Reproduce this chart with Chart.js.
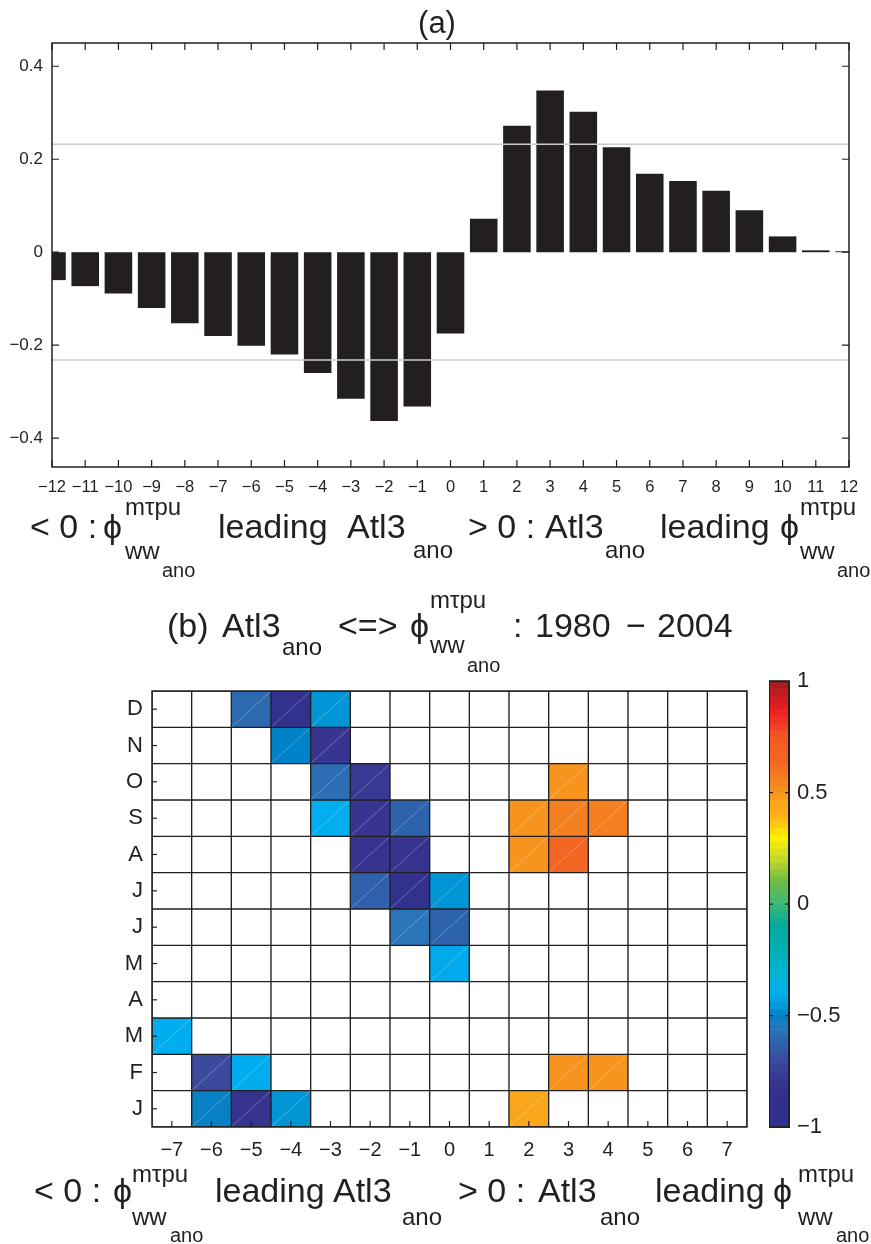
<!DOCTYPE html>
<html>
<head>
<meta charset="utf-8">
<script src="https://cdn.jsdelivr.net/npm/chart.js@4.4.1/dist/chart.umd.min.js"></script>
<style>
  html, body { margin: 0; padding: 0; background: #ffffff; }
  #wrap { position: relative; width: 871px; height: 1244px; }
  canvas { position: absolute; }
</style>
</head>
<body>
<div id="wrap">
  <canvas id="lagChart" width="871" height="580" style="left:0;top:0"></canvas>
  <canvas id="monthChart" width="871" height="664" style="left:0;top:580px"></canvas>
  <canvas id="colorBar" width="102" height="490" style="left:769px;top:660px"></canvas>
</div>
<script>
// ---------- panel (a): lagged correlation, all months ----------
const lagsA = [-12, -11, -10, -9, -8, -7, -6, -5, -4, -3, -2, -1, 0, 1, 2, 3, 4, 5, 6, 7, 8, 9, 10, 11, 12];
const corrA = [-0.060, -0.073, -0.089, -0.120, -0.153, -0.180, -0.201, -0.220, -0.260, -0.315, -0.363, -0.332,
               -0.175, 0.072, 0.272, 0.348, 0.302, 0.226, 0.169, 0.153, 0.132, 0.090, 0.034, 0.004, 0.002];
const yTicksA = [-0.4, -0.2, 0, 0.2, 0.4];
const sigLevel = 0.232;   // 95% significance threshold

// ---------- panel (b): lagged correlation by calendar month ----------
const months = ['J', 'F', 'M', 'A', 'M', 'J', 'J', 'A', 'S', 'O', 'N', 'D'];
const lagsB = [-7, -6, -5, -4, -3, -2, -1, 0, 1, 2, 3, 4, 5, 6, 7];
// significant correlations only (null = not significant), one entry per lag -7..7
const rJan = [null, -0.51, -0.82, -0.46, null, null, null, null, null, 0.45, null, null, null, null, null];
const rFeb = [null, -0.70, -0.40, null, null, null, null, null, null, null, 0.50, 0.50, null, null, null];
const rMar = [-0.40, null, null, null, null, null, null, null, null, null, null, null, null, null, null];
const rApr = [null, null, null, null, null, null, null, null, null, null, null, null, null, null, null];
const rMay = [null, null, null, null, null, null, null, -0.41, null, null, null, null, null, null, null];
const rJun = [null, null, null, null, null, null, -0.56, -0.62, null, null, null, null, null, null, null];
const rJul = [null, null, null, null, null, -0.63, -0.85, -0.46, null, null, null, null, null, null, null];
const rAug = [null, null, null, null, null, -0.82, -0.82, null, null, 0.50, 0.65, null, null, null, null];
const rSep = [null, null, null, null, -0.40, -0.80, -0.62, null, null, 0.50, 0.56, 0.56, null, null, null];
const rOct = [null, null, null, null, -0.58, -0.78, null, null, null, null, 0.50, null, null, null, null];
const rNov = [null, null, null, -0.50, -0.80, null, null, null, null, null, null, null, null, null, null];
const rDec = [null, null, -0.60, -0.85, -0.46, null, null, null, null, null, null, null, null, null, null];
const monthRows = [rJan, rFeb, rMar, rApr, rMay, rJun, rJul, rAug, rSep, rOct, rNov, rDec];
const cbTicks = [-1, -0.5, 0, 0.5, 1];

// ---------- shared styling ----------
const ink = '#231f20';
const family = '"Liberation Sans", Arial, Helvetica, "DejaVu Sans", sans-serif';
Chart.defaults.font.family = family;
Chart.defaults.color = ink;

const colorStops = [
  [-1.00, '#2e3192'], [-0.88, '#312f8d'], [-0.80, '#37358f'], [-0.70, '#3b4a9e'],
  [-0.62, '#2d63ad'], [-0.56, '#2a74b8'], [-0.50, '#0082c8'], [-0.46, '#0096d6'],
  [-0.40, '#00aeef'], [-0.30, '#00b3d0'], [-0.20, '#00b0b0'], [-0.10, '#00a99d'],
  [0.00, '#3cb878'], [0.10, '#6cbd45'], [0.20, '#c2d62e'], [0.30, '#fff200'],
  [0.38, '#fdb913'], [0.45, '#faa61a'], [0.50, '#f7941d'], [0.56, '#f47f20'],
  [0.65, '#f26522'], [0.75, '#f15a24'], [0.87, '#ed2024'], [1.00, '#a01c20']
];
function hexToRgb(h) {
  return [parseInt(h.slice(1, 3), 16), parseInt(h.slice(3, 5), 16), parseInt(h.slice(5, 7), 16)];
}
function cmap(v) {
  v = Math.max(-1, Math.min(1, v));
  for (let i = 1; i < colorStops.length; i++) {
    const [v1, c1] = colorStops[i];
    if (v <= v1) {
      const [v0, c0] = colorStops[i - 1];
      const t = (v - v0) / (v1 - v0);
      const a = hexToRgb(c0), b = hexToRgb(c1);
      const m = a.map((x, k) => Math.round(x + (b[k] - x) * t));
      return `rgb(${m[0]},${m[1]},${m[2]})`;
    }
  }
  return colorStops[colorStops.length - 1][1];
}

function minusFmt(v) {
  const s = String(Math.round(Math.abs(v) * 100) / 100);
  return v < 0 ? '\u2212' + s : s;
}

// draws text runs: [x, text, fontSize, baselineOffset]
function drawRuns(ctx, baseline, runs) {
  ctx.save();
  ctx.fillStyle = ink;
  ctx.textAlign = 'left';
  ctx.textBaseline = 'alphabetic';
  for (const [x, text, size, dy] of runs) {
    ctx.font = size + 'px ' + family;
    ctx.fillText(text, x, baseline + dy);
  }
  ctx.restore();
}

function frame(ctx, area, lw) {
  ctx.save();
  ctx.strokeStyle = ink;
  ctx.lineWidth = lw;
  ctx.strokeRect(area.left, area.top, area.right - area.left, area.bottom - area.top);
  ctx.restore();
}

// ---------- panel (a) ----------
const lagPanel = {
  id: 'lagPanel',
  afterDatasetsDraw(chart) {
    const { ctx, chartArea: a, scales: { x, y } } = chart;
    ctx.save();
    // significance levels
    ctx.strokeStyle = '#cdcdcd';
    ctx.lineWidth = 1.5;
    [sigLevel, -sigLevel].forEach(v => {
      const py = y.getPixelForValue(v);
      ctx.beginPath(); ctx.moveTo(a.left, py); ctx.lineTo(a.right, py); ctx.stroke();
    });
    // box and inward ticks
    frame(ctx, a, 1.5);
    ctx.strokeStyle = ink;
    ctx.lineWidth = 1.2;
    const L = 7;
    lagsA.forEach(v => {
      const px = x.getPixelForValue(v);
      ctx.beginPath();
      ctx.moveTo(px, a.bottom); ctx.lineTo(px, a.bottom - L);
      ctx.moveTo(px, a.top); ctx.lineTo(px, a.top + L);
      ctx.stroke();
    });
    yTicksA.forEach(v => {
      const py = y.getPixelForValue(v);
      ctx.beginPath();
      ctx.moveTo(a.left, py); ctx.lineTo(a.left + L, py);
      ctx.moveTo(a.right, py); ctx.lineTo(a.right - L, py);
      ctx.stroke();
    });
    ctx.restore();
  },
  afterDraw(chart) {
    const ctx = chart.ctx;
    ctx.save();
    ctx.fillStyle = ink;
    ctx.font = '31px ' + family;
    ctx.textAlign = 'center';
    ctx.fillText('(a)', 437, 33);
    ctx.restore();
    const M = 34, S = 24, T = 20;
    drawRuns(ctx, 538, [
      [30, '< 0 :', M, 0], [103, '\u03D5', M, 0],
      [125, 'm\u03C4pu', S, -23], [125, 'ww', S, 21], [162, 'ano', T, 39],
      [218, 'leading', M, 0], [347, 'Atl3', M, 0], [413, 'ano', S, 20],
      [468, '> 0 :', M, 0], [545, 'Atl3', M, 0], [605, 'ano', S, 20],
      [660, 'leading', M, 0], [780, '\u03D5', M, 0],
      [800, 'm\u03C4pu', S, -23], [800, 'ww', S, 21], [837, 'ano', T, 39]
    ]);
  }
};

new Chart(document.getElementById('lagChart'), {
  type: 'bar',
  data: {
    datasets: [{
      data: lagsA.map((l, i) => ({ x: l, y: corrA[i] })),
      backgroundColor: ink,
      borderWidth: 0,
      barPercentage: 0.83,
      categoryPercentage: 1
    }]
  },
  options: {
    responsive: false,
    animation: false,
    devicePixelRatio: 1,
    layout: { padding: { top: 43, right: 22, left: 0, bottom: 0 } },
    plugins: { legend: { display: false }, tooltip: { enabled: false } },
    scales: {
      x: {
        type: 'linear', min: -12, max: 12, offset: false,
        grid: { display: false, drawTicks: false },
        border: { display: false },
        ticks: { font: { size: 16.5 }, padding: 11, maxRotation: 0, autoSkip: false, callback: v => minusFmt(v) },
        afterBuildTicks: s => { s.ticks = lagsA.map(v => ({ value: v })); },
        afterFit: s => { s.height = 113; }
      },
      y: {
        type: 'linear', min: -0.462, max: 0.45,
        grid: { display: false, drawTicks: false },
        border: { display: false },
        ticks: { font: { size: 17 }, padding: 9, callback: v => minusFmt(v) },
        afterBuildTicks: s => { s.ticks = yTicksA.map(v => ({ value: v })); },
        afterFit: s => { s.width = 52; }
      }
    }
  },
  plugins: [lagPanel]
});

// ---------- panel (b) ----------
const cells = [];
monthRows.forEach((row, r) => {
  row.forEach((v, c) => cells.push({ x: lagsB[c], y: [r, r + 1], v: v }));
});

const monthPanel = {
  id: 'monthPanel',
  afterDatasetsDraw(chart) {
    const { ctx, chartArea: a, scales: { x, y } } = chart;
    ctx.save();
    // faint diagonal seam on filled cells
    const meta = chart.getDatasetMeta(0);
    ctx.strokeStyle = 'rgba(255,255,255,0.35)';
    ctx.lineWidth = 0.8;
    meta.data.forEach((el, i) => {
      if (cells[i].v == null) return;
      const p = el.getProps(['x', 'y', 'base', 'width'], true);
      ctx.beginPath();
      ctx.moveTo(p.x - p.width / 2 + 1, p.base - 1);
      ctx.lineTo(p.x + p.width / 2 - 1, p.y + 1);
      ctx.stroke();
    });
    frame(ctx, a, 1.5);
    ctx.strokeStyle = ink;
    ctx.lineWidth = 1.2;
    lagsB.forEach(v => {
      const px = x.getPixelForValue(v);
      ctx.beginPath(); ctx.moveTo(px, a.bottom); ctx.lineTo(px, a.bottom - 6); ctx.stroke();
    });
    months.forEach((m, i) => {
      const py = y.getPixelForValue(i + 0.5);
      ctx.beginPath(); ctx.moveTo(a.left, py); ctx.lineTo(a.left + 5, py); ctx.stroke();
    });
    ctx.restore();
  },
  afterDraw(chart) {
    const ctx = chart.ctx;
    const M = 34, S = 24, T = 20;
    // title (canvas starts 580px down the page)
    drawRuns(ctx, 57, [
      [167, '(b)', M, 0], [222, 'Atl3', M, 0], [282, 'ano', S, 18],
      [338, '<=>', M, 0], [410, '\u03D5', M, 0],
      [430, 'm\u03C4pu', S, -29], [430, 'ww', S, 16], [467, 'ano', T, 35],
      [513, ':', M, 0], [535, '1980', M, 0], [626, '\u2212', M, 0], [657, '2004', M, 0]
    ]);
    drawRuns(ctx, 622, [
      [34, '< 0 :', M, 0], [113, '\u03D5', M, 0],
      [132, 'm\u03C4pu', S, -20], [132, 'ww', S, 23], [170, 'ano', T, 40],
      [215, 'leading', M, 0], [333, 'Atl3', M, 0], [402, 'ano', S, 23],
      [458, '> 0 :', M, 0], [538, 'Atl3', M, 0], [600, 'ano', S, 23],
      [655, 'leading', M, 0], [773, '\u03D5', M, 0],
      [798, 'm\u03C4pu', S, -20], [798, 'ww', S, 23], [836, 'ano', T, 40]
    ]);
  }
};

new Chart(document.getElementById('monthChart'), {
  type: 'bar',
  data: {
    datasets: [{
      data: cells,
      backgroundColor: c => (c.raw && c.raw.v != null) ? cmap(c.raw.v) : '#ffffff',
      borderColor: ink,
      borderWidth: 1,
      borderSkipped: false,
      barPercentage: 1,
      categoryPercentage: 1
    }]
  },
  options: {
    responsive: false,
    animation: false,
    devicePixelRatio: 1,
    layout: { padding: { top: 111, right: 124, left: 0, bottom: 0 } },
    plugins: { legend: { display: false }, tooltip: { enabled: false } },
    scales: {
      x: {
        type: 'linear', min: -7.5, max: 7.5, offset: false,
        grid: { display: false, drawTicks: false },
        border: { display: false },
        ticks: { font: { size: 20 }, padding: 11, maxRotation: 0, autoSkip: false, callback: v => minusFmt(v) },
        afterBuildTicks: s => { s.ticks = lagsB.map(v => ({ value: v })); },
        afterFit: s => { s.height = 117; }
      },
      y: {
        type: 'linear', min: 0, max: 12,
        grid: { display: false, drawTicks: false },
        border: { display: false },
        ticks: { font: { size: 22 }, padding: 9, autoSkip: false, callback: (v, i) => months[i] },
        afterBuildTicks: s => { s.ticks = months.map((m, i) => ({ value: i + 0.5 })); },
        afterFit: s => { s.width = 152; }
      }
    }
  },
  plugins: [monthPanel]
});

// ---------- colour bar ----------
const nLevels = 64;
const bands = [];
for (let k = 0; k < nLevels; k++) {
  const lo = -1 + 2 * k / nLevels, hi = -1 + 2 * (k + 1) / nLevels;
  bands.push({ x: 0, y: [lo, hi], v: (lo + hi) / 2 });
}
const barFrame = {
  id: 'barFrame',
  afterDatasetsDraw(chart) {
    const { ctx, chartArea: a, scales: { y } } = chart;
    ctx.save();
    frame(ctx, a, 2);
    ctx.strokeStyle = ink;
    ctx.lineWidth = 1.2;
    [-0.5, 0, 0.5].forEach(v => {
      const py = y.getPixelForValue(v);
      ctx.beginPath();
      ctx.moveTo(a.left, py); ctx.lineTo(a.left + 4, py);
      ctx.moveTo(a.right, py); ctx.lineTo(a.right - 4, py);
      ctx.stroke();
    });
    ctx.restore();
  }
};
new Chart(document.getElementById('colorBar'), {
  type: 'bar',
  data: {
    datasets: [{
      data: bands,
      backgroundColor: c => (c.raw ? cmap(c.raw.v) : '#ffffff'),
      borderWidth: 0,
      barPercentage: 1,
      categoryPercentage: 1
    }]
  },
  options: {
    responsive: false,
    animation: false,
    devicePixelRatio: 1,
    layout: { padding: { top: 19, bottom: 23, left: 0, right: 0 } },
    plugins: { legend: { display: false }, tooltip: { enabled: false } },
    scales: {
      x: {
        type: 'linear', min: -0.5, max: 0.5, display: false, offset: false,
        afterBuildTicks: s => { s.ticks = [{ value: 0 }]; }
      },
      y: {
        type: 'linear', position: 'right', min: -1, max: 1,
        grid: { display: false, drawTicks: false },
        border: { display: false },
        ticks: { font: { size: 22 }, padding: 8, callback: v => minusFmt(v) },
        afterBuildTicks: s => { s.ticks = cbTicks.map(v => ({ value: v })); },
        afterFit: s => { s.width = 82; }
      }
    }
  },
  plugins: [barFrame]
});
</script>
</body>
</html>
